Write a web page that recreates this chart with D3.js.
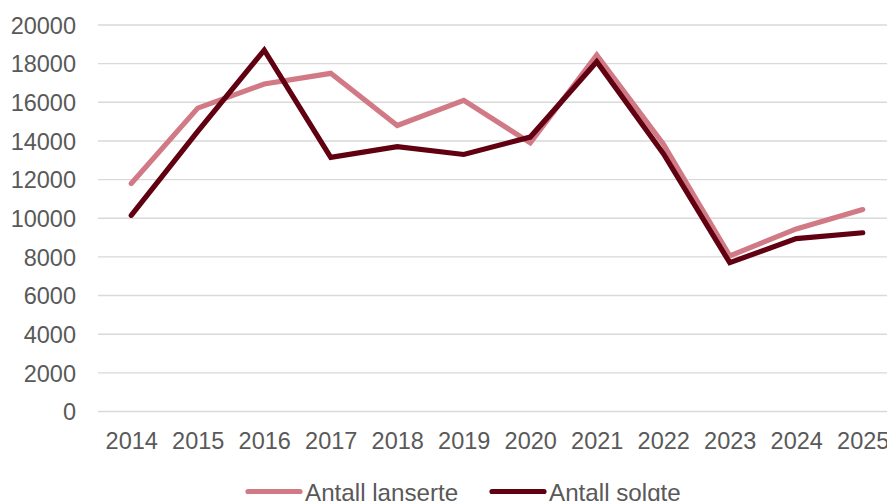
<!DOCTYPE html>
<html>
<head>
<meta charset="utf-8">
<script src="https://cdn.jsdelivr.net/npm/d3@7"></script>
<style>
  html, body { margin: 0; padding: 0; background: #ffffff; }
  svg { display: block; }
  text { font-family: "Liberation Sans", Arial, sans-serif; fill: #595959; }
</style>
</head>
<body>
<svg id="chart" width="887" height="501"></svg>
<script>
// Years on the x axis
const years = ["2014", "2015", "2016", "2017", "2018", "2019", "2020", "2021", "2022", "2023", "2024", "2025"];

// Number of launched products per year
const lanserte = [11800, 15700, 16950, 17500, 14800, 16100, 13900, 18450, 13850, 8050, 9450, 10450];

// Number of sold products per year
const solgte = [10150, 14500, 18700, 13150, 13700, 13300, 14200, 18100, 13350, 7700, 8950, 9250];

// Value axis ticks
const yTicks = [0, 2000, 4000, 6000, 8000, 10000, 12000, 14000, 16000, 18000, 20000];

const seriesNames = ["Antall lanserte", "Antall solgte"];
const seriesColors = ["#D17A86", "#600010"];

const svg = d3.select("#chart");
const plot = { left: 98, right: 896, top: 25, bottom: 411.5 };
const fontSize = 23.5;

const x = d3.scalePoint().domain(years).range([plot.left, plot.right]).padding(0.5);
const y = d3.scaleLinear().domain([0, 20000]).range([plot.bottom, plot.top]);

// Horizontal gridlines
svg.append("g")
  .selectAll("line")
  .data(yTicks)
  .join("line")
  .attr("x1", plot.left)
  .attr("x2", plot.right)
  .attr("y1", d => y(d))
  .attr("y2", d => y(d))
  .attr("stroke", "#D9D9D9")
  .attr("stroke-width", 1.4);

// Y axis labels
const yAxis = d3.axisLeft(y).tickValues(yTicks).tickSize(0).tickPadding(0).tickFormat(d3.format("d"));
const gy = svg.append("g").attr("transform", `translate(76,0)`).call(yAxis);
gy.select(".domain").remove();
gy.selectAll("text")
  .attr("font-size", fontSize)
  .attr("font-family", "Liberation Sans, Arial, sans-serif")
  .attr("fill", "#595959")
  .attr("dy", "0.35em");

// X axis labels
const xAxis = d3.axisBottom(x).tickSize(0).tickPadding(0);
const gx = svg.append("g").attr("transform", `translate(0,${plot.bottom})`).call(xAxis);
gx.select(".domain").remove();
gx.selectAll("text")
  .attr("font-size", fontSize)
  .attr("font-family", "Liberation Sans, Arial, sans-serif")
  .attr("fill", "#595959")
  .attr("y", 37.5)
  .attr("dy", 0);

// Series lines
const line = d3.line().x((d, i) => x(years[i])).y(d => y(d));
[lanserte, solgte].forEach((vals, k) => {
  svg.append("path")
    .datum(vals)
    .attr("d", line)
    .attr("fill", "none")
    .attr("stroke", seriesColors[k])
    .attr("stroke-width", 5.2)
    .attr("stroke-linejoin", "miter")
    .attr("stroke-linecap", "round");
});

// Legend
const legendItems = [
  { name: seriesNames[0], color: seriesColors[0], x0: 246 },
  { name: seriesNames[1], color: seriesColors[1], x0: 490 }
];
const lg = svg.append("g");
legendItems.forEach(it => {
  lg.append("line")
    .attr("x1", it.x0 + 2).attr("x2", it.x0 + 54)
    .attr("y1", 491.5).attr("y2", 491.5)
    .attr("stroke", it.color)
    .attr("stroke-width", 5.2)
    .attr("stroke-linecap", "round");
  lg.append("text")
    .attr("x", it.x0 + 59)
    .attr("y", 500.5)
    .attr("font-size", 24.2)
    .text(it.name);
});
</script>
</body>
</html>
